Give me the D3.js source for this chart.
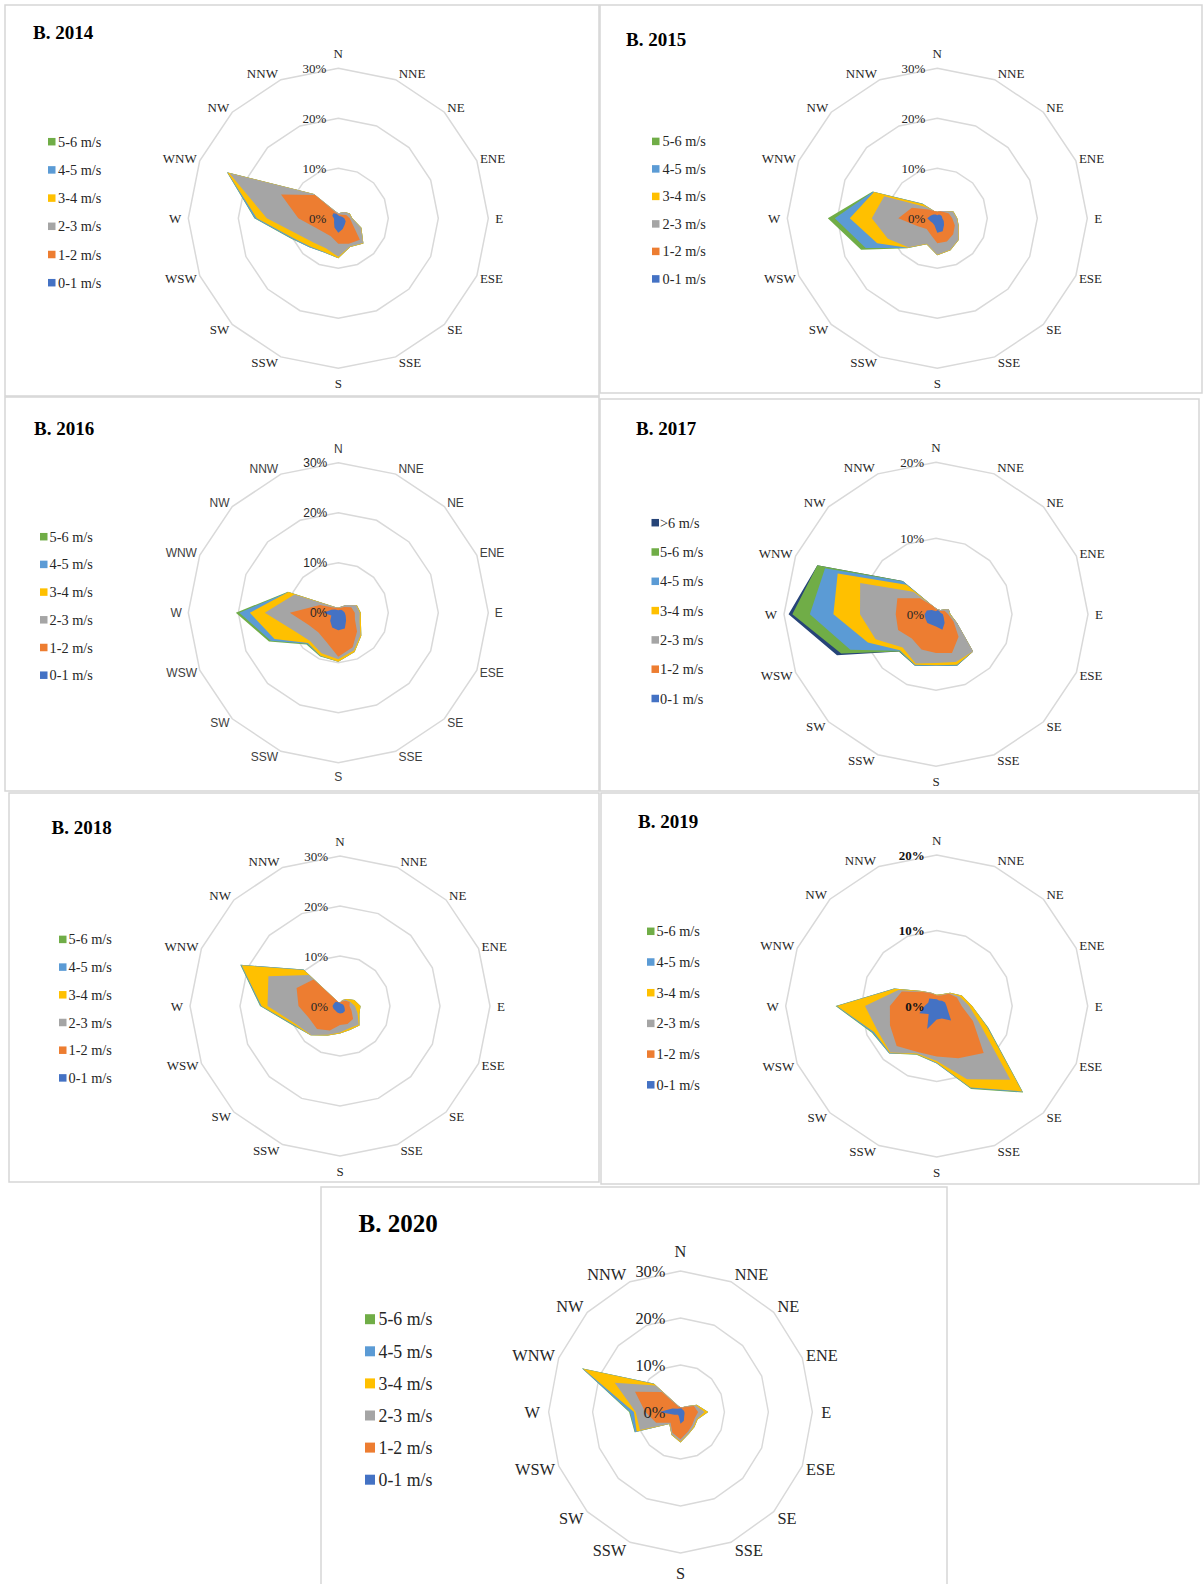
<!DOCTYPE html>
<html><head><meta charset="utf-8">
<script src="https://cdn.jsdelivr.net/npm/d3@7"></script>
<style>body{margin:0;background:#fff} svg{display:block}</style>
</head><body>
<svg id="c" width="1203" height="1584"></svg>
<script>
// ---------- data ----------
const directions = ["N","NNE","NE","ENE","E","ESE","SE","SSE","S","SSW","SW","WSW","W","WNW","NW","NNW"];
const speedClasses = ["0-1 m/s","1-2 m/s","2-3 m/s","3-4 m/s","4-5 m/s","5-6 m/s",">6 m/s"];
const classColors = ["#4472C4","#ED7D31","#A5A5A5","#FFC000","#5B9BD5","#70AD47","#264478"];
const ticks30 = [0,10,20,30];
const ticks20 = [0,10,20];

// cumulative frequency (%) per direction, one row per speed class (0-1, 1-2, ...)
const rose2014 = [
  [0.6,0.5,0.6,0.8,1.2,1.6,1.8,2.3,2.9,2.0,1.2,0.9,0.9,1.3,1.4,1.0],
  [0.8,0.8,1.0,1.7,2.3,3.1,6.1,5.5,5.1,3.9,4.0,4.9,8.0,12.4,6.6,1.2],
  [1.0,1.2,1.8,2.4,2.7,4.9,7.0,6.1,7.7,6.5,6.9,8.6,14.3,23.6,6.8,1.5],
  [1.0,1.2,1.8,2.5,2.8,5.0,7.1,6.2,8.0,7.3,8.0,10.0,16.3,24.0,6.9,1.5],
  [1.0,1.2,1.8,2.5,2.8,5.0,7.1,6.2,8.0,7.4,8.2,10.3,16.7,24.1,6.9,1.5],
  [1.0,1.2,1.8,2.5,2.8,5.0,7.1,6.2,8.0,7.4,8.2,10.4,16.8,24.1,6.9,1.5]
];
const rose2015 = [
  [0.6,0.8,0.9,1.0,1.0,1.4,1.9,2.8,2.9,1.5,1.3,1.5,2.0,1.4,1.1,0.8],
  [1.3,1.5,1.8,2.5,3.0,3.8,4.5,5.0,5.0,3.5,3.0,4.2,7.8,5.5,2.5,1.6],
  [1.3,1.6,2.1,3.4,3.9,4.6,6.0,6.8,7.3,5.5,8.2,10.7,13.1,11.5,3.2,1.6],
  [1.3,1.6,2.1,3.5,4.0,4.7,6.1,6.9,7.4,5.6,8.3,13.0,17.5,13.7,4.0,1.6],
  [1.3,1.6,2.1,3.5,4.0,4.7,6.1,6.9,7.4,5.6,8.4,15.5,20.5,13.9,4.1,1.6],
  [1.3,1.6,2.1,3.5,4.0,4.7,6.1,6.9,7.4,5.6,8.5,16.5,21.9,14.0,4.2,1.6]
];
const rose2016 = [
  [0.5,0.6,0.8,1.0,1.3,1.6,2.2,3.4,3.5,3.2,2.3,1.5,3.0,1.5,0.9,0.6],
  [1.0,1.0,1.6,2.8,3.3,3.6,5.3,7.5,8.8,6.3,5.6,6.4,9.7,4.0,1.5,1.0],
  [1.0,1.3,2.2,3.9,4.3,4.6,6.3,8.2,9.3,8.8,8.0,9.5,14.7,9.5,1.8,1.2],
  [1.0,1.3,2.2,4.0,4.5,4.9,6.5,8.5,9.8,9.3,8.6,13.8,17.7,10.8,2.0,1.2],
  [1.0,1.3,2.2,4.0,4.5,4.9,6.5,8.5,9.8,9.4,8.8,14.6,19.8,10.8,2.0,1.2],
  [1.0,1.3,2.2,4.0,4.5,4.9,6.5,8.5,9.8,9.5,9.0,15.0,20.5,10.9,2.0,1.2]
];
const rose2017 = [
  [0.4,0.6,0.6,0.6,0.9,1.1,1.6,2.2,1.6,1.5,1.6,1.5,1.5,1.3,0.8,0.5],
  [0.7,0.6,0.6,1.2,1.6,2.5,4.2,5.5,5.1,5.0,4.5,5.4,5.3,5.5,3.0,1.2],
  [0.8,0.7,0.8,1.8,1.8,3.0,6.9,6.8,6.4,7.0,6.2,8.6,10.0,10.8,4.2,1.2],
  [0.8,0.7,0.8,1.8,1.9,3.0,6.9,7.2,6.7,7.2,6.7,9.7,13.5,14.0,5.5,1.2],
  [0.8,0.7,0.8,1.8,1.9,3.0,6.9,7.3,6.8,7.3,6.8,12.2,16.6,15.8,6.1,1.2],
  [0.8,0.7,0.8,1.8,1.9,3.0,6.9,7.3,6.8,7.3,6.9,13.5,18.9,16.9,6.2,1.2],
  [0.8,0.7,0.8,1.8,1.9,3.0,6.9,7.3,6.8,7.3,6.9,14.1,19.4,16.9,6.2,1.2]
];
const rose2018 = [
  [0.6,0.5,0.6,0.7,0.8,1.0,1.4,1.5,1.5,1.4,1.3,1.4,1.5,1.3,1.2,0.8],
  [0.7,1.0,1.5,2.1,1.9,2.5,3.7,3.9,3.8,5.3,6.5,6.6,8.3,9.4,7.5,0.8],
  [0.7,1.2,1.8,2.2,3.0,3.8,5.3,4.8,5.3,6.2,8.2,9.5,14.5,15.5,8.8,0.8],
  [0.7,1.3,2.0,3.1,4.1,4.2,5.5,5.2,5.5,6.4,8.3,9.9,15.7,21.3,10.2,0.8],
  [0.7,1.3,2.0,3.1,4.1,4.2,5.5,5.2,5.5,6.4,8.3,10.1,15.9,21.5,10.3,0.8],
  [0.7,1.3,2.0,3.1,4.1,4.2,5.5,5.2,5.5,6.4,8.3,10.2,16.0,21.6,10.3,0.8]
];
const rose2019 = [
  [0.9,0.8,1.0,1.2,1.3,1.6,2.7,1.8,1.8,3.3,1.5,2.5,1.6,1.2,1.4,1.0],
  [1.4,1.5,2.3,2.9,3.3,5.2,8.8,7.5,6.7,6.6,7.5,6.7,6.2,5.0,2.6,1.8],
  [1.4,1.6,2.4,3.3,4.3,6.2,13.8,10.5,7.3,6.8,8.7,8.5,9.5,5.5,2.7,1.9],
  [1.5,1.7,2.5,3.6,4.7,7.2,16.0,11.7,7.5,6.9,8.8,9.0,13.2,6.0,2.8,1.9],
  [1.5,1.7,2.5,3.6,4.7,7.3,16.1,11.8,7.6,6.9,8.9,9.2,13.3,6.1,2.8,1.9],
  [1.5,1.7,2.5,3.6,4.7,7.4,16.2,11.9,7.6,7.0,8.9,9.3,13.4,6.1,2.8,1.9]
];
const rose2020 = [
  [0.8,0.8,0.7,0.8,0.9,1.0,1.2,2.0,2.5,1.0,0.8,1.5,4.8,2.0,1.0,0.8],
  [1.0,1.0,1.5,3.3,4.0,3.5,3.8,4.5,5.8,4.8,3.2,6.0,8.0,11.2,6.0,1.2],
  [1.0,1.1,1.7,3.8,5.5,4.0,4.3,4.9,6.3,5.2,3.5,10.0,10.2,16.2,8.0,1.5],
  [1.0,1.1,1.7,4.0,6.3,4.2,4.5,5.0,6.5,5.3,3.6,10.8,10.6,24.0,8.4,1.5],
  [1.0,1.1,1.7,4.0,6.3,4.2,4.5,5.0,6.5,5.3,3.6,11.2,11.5,24.2,8.6,1.5],
  [1.0,1.1,1.7,4.0,6.3,4.2,4.5,5.0,6.5,5.3,3.6,11.3,11.7,24.3,8.6,1.5]
];

// ---------- layout ----------
const SERIF = "'Liberation Serif','Times New Roman',serif";
const SANS = "'Liberation Sans',Arial,sans-serif";
const panels = [
  {title:"B. 2014", data:rose2014, ticks:ticks30, box:[5,5,594,391], tx:33, ty:39, tfs:19,
   cx:338.3, cy:218.3, R:150, sx:1, lfs:13, lfont:SERIF, tickBold:false,
   leg:{sq:48, tx:58, y0:141.7, step:28.2, fs:14.3, size:7.5}},
  {title:"B. 2015", data:rose2015, ticks:ticks30, box:[600,5,602,388], tx:626, ty:46, tfs:19,
   cx:937.3, cy:218.3, R:150, sx:1, lfs:13, lfont:SERIF, tickBold:false,
   leg:{sq:652, tx:662.5, y0:141.4, step:27.5, fs:14.3, size:7.5}},
  {title:"B. 2016", data:rose2016, ticks:ticks30, box:[5,397,594,394], tx:34, ty:435, tfs:19,
   cx:338.3, cy:612.7, R:150, sx:1, lfs:12, lfont:SANS, tickBold:false,
   leg:{sq:40, tx:49.5, y0:536.7, step:27.7, fs:14.3, size:7.5}},
  {title:"B. 2017", data:rose2017, ticks:ticks20, box:[600,399,599,392], tx:636, ty:435, tfs:19,
   cx:936, cy:614.3, R:152, sx:1, lfs:13, lfont:SERIF, tickBold:false,
   leg:{sq:651.5, tx:660, y0:522.7, step:29.3, fs:14.3, size:7.5}},
  {title:"B. 2018", data:rose2018, ticks:ticks30, box:[9,793,590,389], tx:51.5, ty:834, tfs:19,
   cx:340, cy:1006, R:150, sx:1, lfs:13, lfont:SERIF, tickBold:false,
   leg:{sq:59, tx:68.5, y0:939.4, step:27.7, fs:14.3, size:7.5}},
  {title:"B. 2019", data:rose2019, ticks:ticks20, box:[601,793,598,391], tx:638, ty:828, tfs:19,
   cx:936.7, cy:1006, R:151, sx:1, lfs:13, lfont:SERIF, tickBold:true,
   leg:{sq:647, tx:656.5, y0:931.3, step:30.7, fs:14.3, size:7.5}},
  {title:"B. 2020", data:rose2020, ticks:ticks30, box:[321,1187,626,420], tx:358.6, ty:1232, tfs:25,
   cx:680.5, cy:1412, R:141, sx:0.935, lfs:17.5, lfont:SERIF, tickBold:false,
   leg:{sq:365, tx:378.5, y0:1319.2, step:32.1, fs:17.8, size:10}}
];

// ---------- drawing ----------
const svg = d3.select("#c");
svg.append("rect").attr("width",1203).attr("height",1584).attr("fill","#fff");
const N = directions.length;
const angleOf = i => i * 2 * Math.PI / N;
const TEXT = "#262626";

function drawPanel(p){
  const g = svg.append("g");
  g.append("rect").attr("x",p.box[0]).attr("y",p.box[1]).attr("width",p.box[2]).attr("height",p.box[3])
    .attr("fill","#fff").attr("stroke","#d6d6d6").attr("stroke-width",1.5);

  g.append("text").attr("x",p.tx).attr("y",p.ty).text(p.title)
    .attr("font-family",SERIF).attr("font-weight","bold").attr("font-size",p.tfs).attr("fill","#000");

  // legend (highest class on top)
  const n = p.data.length;
  const leg = g.append("g");
  for (let j = 0; j < n; j++){
    const k = n - 1 - j;
    const y = p.leg.y0 + j * p.leg.step;
    leg.append("rect").attr("x",p.leg.sq).attr("y",y - p.leg.size/2).attr("width",p.leg.size).attr("height",p.leg.size)
      .attr("fill",classColors[k]);
    leg.append("text").attr("x",p.leg.tx).attr("y",y).attr("dy","0.35em").text(speedClasses[k])
      .attr("font-family",SERIF).attr("font-size",p.leg.fs).attr("fill",TEXT);
  }

  const cg = g.append("g").attr("transform",`translate(${p.cx},${p.cy}) scale(${p.sx},1)`);
  const maxV = p.ticks[p.ticks.length-1];
  const r = d3.scaleLinear().domain([0,maxV]).range([0,p.R]);
  const radial = d3.lineRadial().angle((d,i)=>angleOf(i)).radius(d=>r(d)).curve(d3.curveLinearClosed);

  // grid rings
  p.ticks.filter(t=>t>0).forEach(t=>{
    cg.append("path").attr("d",radial(directions.map(()=>t)))
      .attr("fill","none").attr("stroke","#d9d9d9").attr("stroke-width",1.5);
  });

  // filled series, largest (outermost class) at the back
  for (let k = n-1; k >= 0; k--){
    cg.append("path").attr("d",radial(p.data[k])).attr("fill",classColors[k]).attr("stroke","none");
  }

  const k13 = p.lfs/13;
  // tick labels
  p.ticks.forEach(t=>{
    cg.append("text").attr("x",-12*k13).attr("y",-r(t)).attr("dy","0.35em")
      .attr("text-anchor","end").text(t+"%")
      .attr("font-family",p.lfont).attr("font-size",p.lfs)
      .attr("font-weight",p.tickBold?"bold":"normal").attr("fill",p.tickBold?"#111":TEXT);
  });

  // direction labels
  directions.forEach((d,i)=>{
    const a = angleOf(i), s = Math.sin(a), c = Math.cos(a);
    const vx = p.R*s, vy = -p.R*c;
    let x, y, anchor;
    if (Math.abs(s) < 0.01){
      anchor = "middle"; x = 0; y = vy - Math.sign(c)*15*k13;
    } else {
      anchor = s > 0 ? "start" : "end";
      const off = Math.abs(s) > 0.99 ? 7 : 3;
      x = vx + Math.sign(s)*off*k13;
      y = vy - 6.5*c*k13;
    }
    cg.append("text").attr("x",x).attr("y",y).attr("dy","0.35em").attr("text-anchor",anchor).text(d)
      .attr("font-family",p.lfont).attr("font-size",p.lfs).attr("fill",p.lfont===SANS?"#404040":TEXT);
  });
}
panels.forEach(drawPanel);
</script>
</body></html>
